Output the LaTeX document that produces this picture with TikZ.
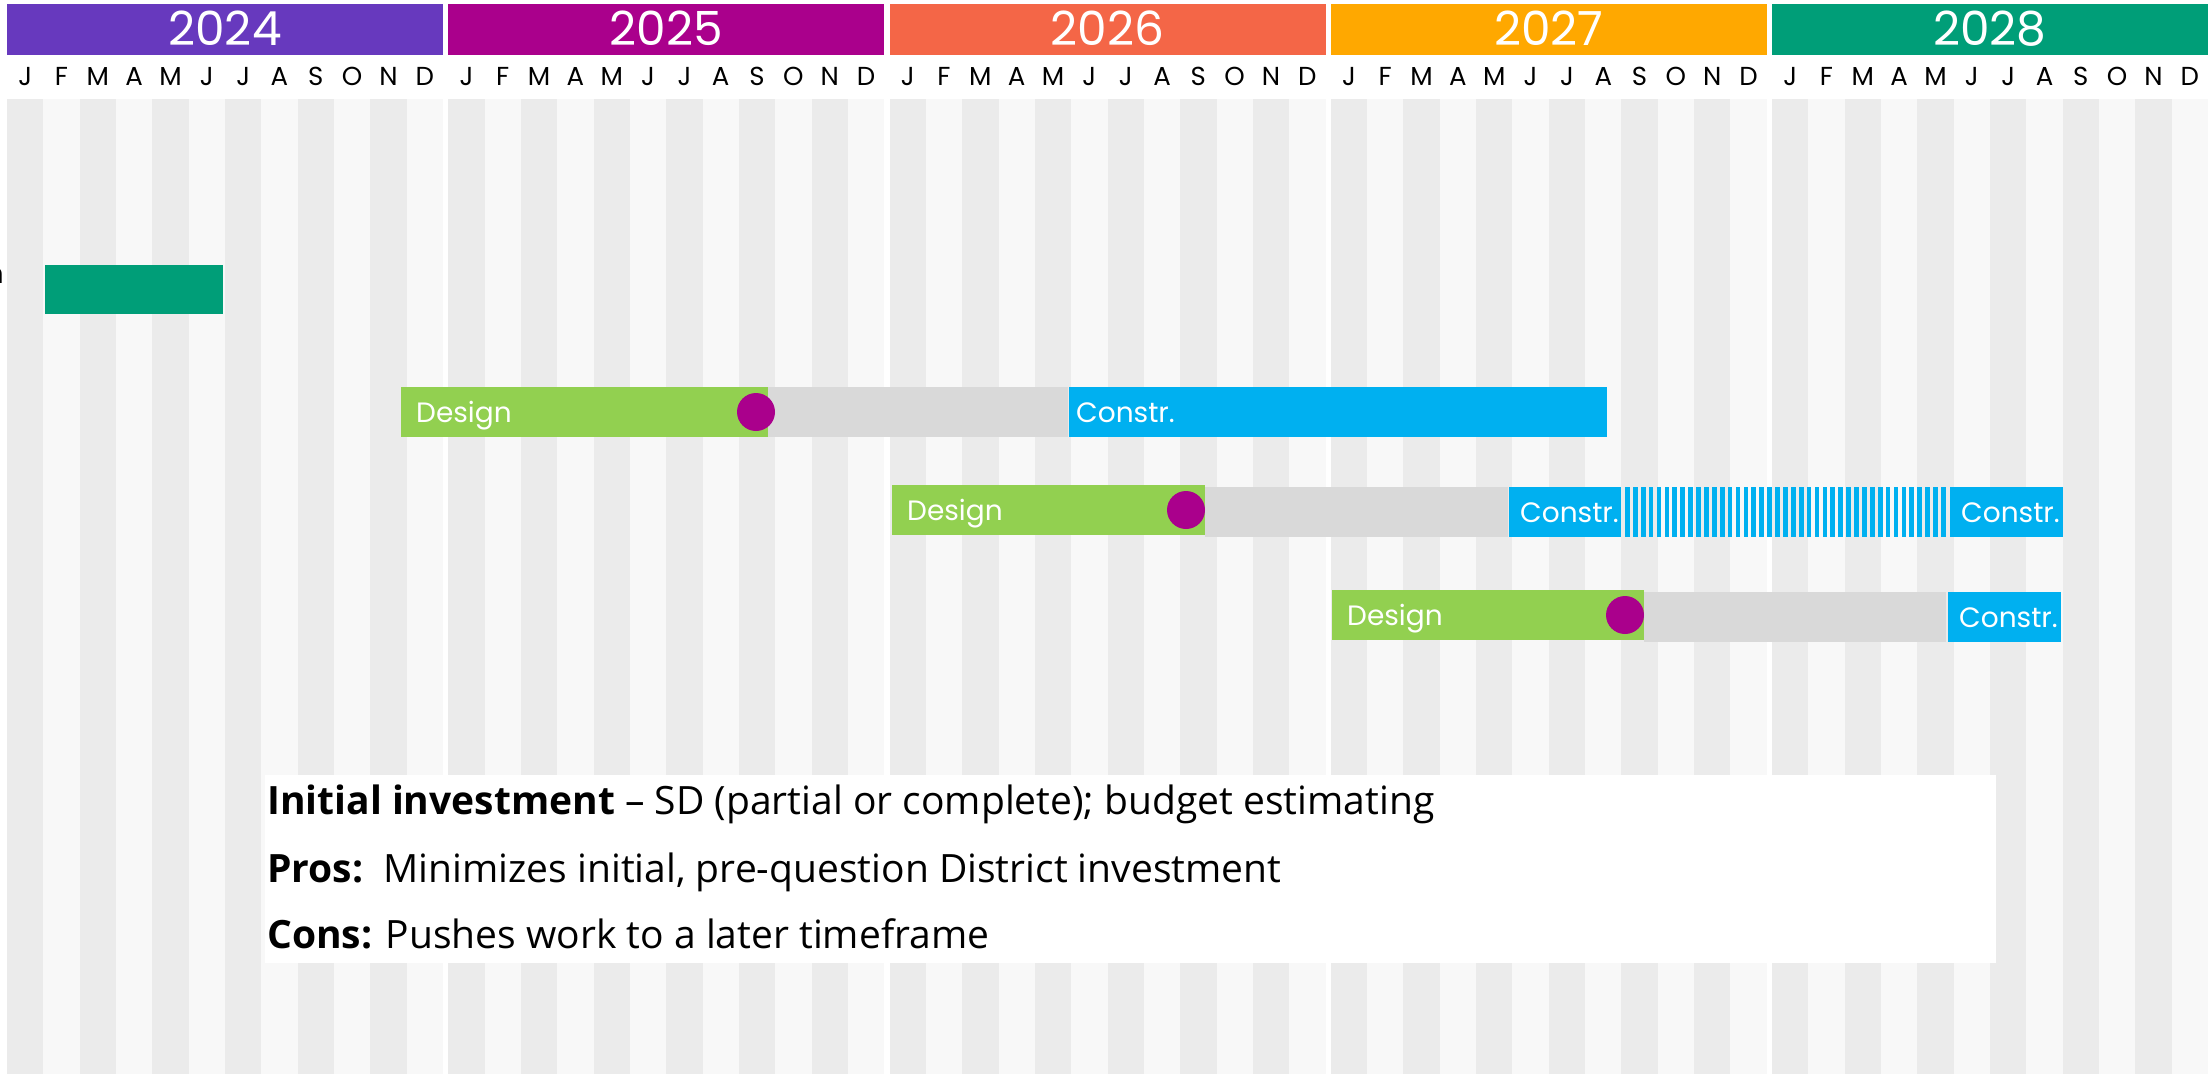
\documentclass[tikz,border=0pt]{standalone}
\usepackage{fontspec}
\setmainfont{Open Sans}[Ligatures=NoCommon]
\newfontfamily\ganttfont{Poppins}
\usepackage{xcolor}
\definecolor{yrA}{HTML}{6739BE}
\definecolor{yrB}{HTML}{AA008C}
\definecolor{yrC}{HTML}{F46647}
\definecolor{yrD}{HTML}{FFA800}
\definecolor{yrE}{HTML}{009E78}
\definecolor{dark}{HTML}{EBEBEB}
\definecolor{light}{HTML}{F8F8F8}
\definecolor{designgreen}{HTML}{92D050}
\definecolor{waitgrey}{HTML}{D9D9D9}
\definecolor{constrblue}{HTML}{00B0F0}
\tikzset{
	month/.style={anchor=base, inner sep=0, font=\ganttfont\fontsize{26}{28}\selectfont},
	barlab/.style={anchor=base west, inner sep=0, text=white, font=\ganttfont\fontsize{28}{30}\selectfont},
	note/.style={anchor=base west, inner sep=0, font=\fontsize{39}{44}\selectfont}
}

\begin{document}
\begin{tikzpicture}[x=1pt,y=-1pt]
		\useasboundingbox (0,0) rectangle (2210,1074);
		\fill[white] (0,0) rectangle (2210,1074);
		\foreach \yr/\col/\lab in {0/yrA/2024,1/yrB/2025,2/yrC/2026,3/yrD/2027,4/yrE/2028}{
			\pgfmathsetmacro\xs{7+441.25*\yr}
			\fill[\col] (\xs,4) rectangle ++(436,51);
			\node[anchor=base, inner sep=0, text=white, font=\ganttfont\fontsize{47}{50}\selectfont] (y\lab) at (\xs+218,45) {\lab};
			\foreach \mo/\mn in {0/J,1/F,2/M,3/A,4/M,5/J,6/J,7/A,8/S,9/O,10/N,11/D}{
				\pgfmathsetmacro\xm{\xs+36.333*\mo}
				\ifodd\mo \def\tone{light}\else\def\tone{dark}\fi
				\fill[\tone] (\xm,99) rectangle ++(36.333,975);
				\node[month] (m\lab\mo) at (\xm+18.17,85) {\mn};
			}
		}
		\node[barlab, text=black, anchor=base east] (cut) at (4,283) {n};
		\fill[yrE] (45,265) rectangle (223,314);
		\fill[designgreen] (401,387) rectangle (768,437);
		\fill[waitgrey] (768,387) rectangle (1068,437);
		\fill[constrblue] (1069,387) rectangle (1607,437);
		\fill[yrB] (756,412) circle (19);
		\node[barlab] (des1) at (416,422) {Design};
		\node[barlab] (con1) at (1076,422) {Constr.};
		\fill[designgreen] (892,485) rectangle (1205,535);
		\fill[waitgrey] (1205,487) rectangle (1508,537);
		\fill[constrblue] (1509,487) rectangle (1621,537);
		\foreach \s in {0,...,40}
			\fill[constrblue] (1625+7.9*\s,487) rectangle ++(4.7,50);
		\fill[constrblue] (1950,487) rectangle (2063,537);
		\fill[yrB] (1186,510) circle (19);
		\node[barlab] (des2) at (907,520) {Design};
		\node[barlab] (con2) at (1520,522) {Constr.};
		\node[barlab] (con3) at (1961,522) {Constr.};
		\fill[designgreen] (1332,590) rectangle (1644,640);
		\fill[waitgrey] (1644,592) rectangle (1946,642);
		\fill[constrblue] (1948,592) rectangle (2061,642);
		\fill[yrB] (1625,615) circle (19);
		\node[barlab] (des3) at (1347,625) {Design};
		\node[barlab] (con4) at (1959,627) {Constr.};
		\fill[white] (265,775) rectangle (1996,963);
		\node[note] (inv) at (267,814) {\textbf{Initial investment} – SD (partial or complete); budget estimating};
		\node[note] (pros) at (267,882) {\textbf{Pros:}\ \ Minimizes initial, pre-question District investment};
		\node[note] (cons) at (267,948) {\textbf{Cons:} Pushes work to a later timeframe};
	\end{tikzpicture}
\end{document}
